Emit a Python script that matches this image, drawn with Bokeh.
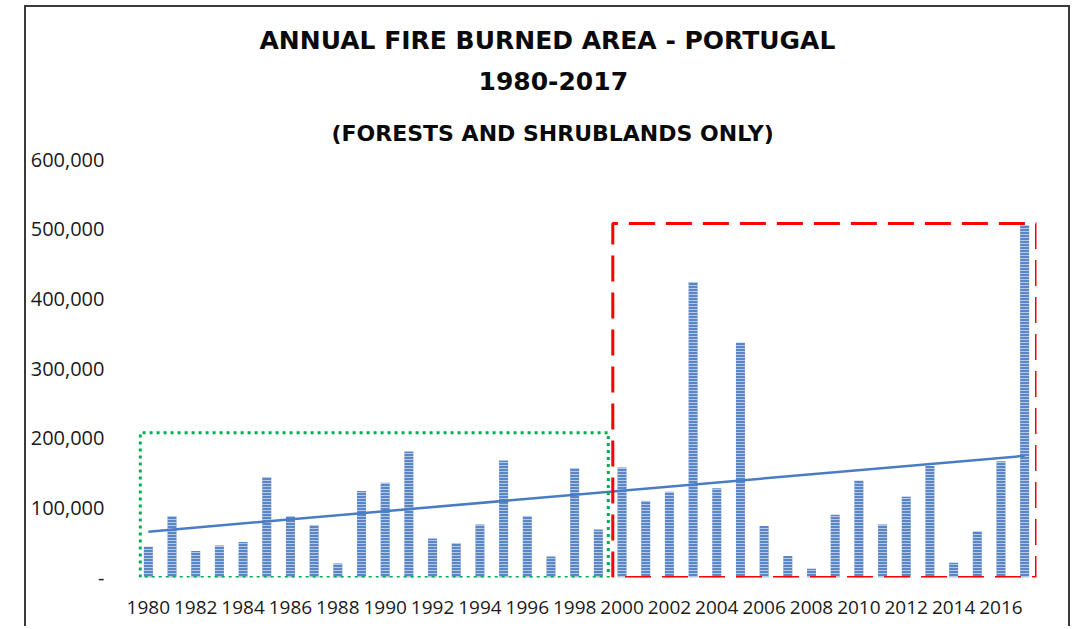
from bokeh.plotting import figure
from bokeh.models import ColumnDataSource, FixedTicker, Title
from bokeh.embed import file_html
from bokeh.resources import INLINE

years = list(range(1980, 2018))
burned_area = [44000, 88000, 38000, 46000, 51000, 144000, 88000, 75000, 20000, 124000,
               136000, 181000, 56000, 49000, 76000, 168000, 88000, 30000, 157000, 69000,
               158000, 110000, 123000, 424000, 128000, 337000, 74000, 31000, 12500, 90000,
               139000, 76000, 116000, 160000, 21000, 66000, 167000, 506000]
trend_years = [1980, 2017]
trend_values = [65800, 174600]
y_ticks = [0, 100000, 200000, 300000, 400000, 500000, 600000]
y_tick_labels = ["-", "100,000", "200,000", "300,000", "400,000", "500,000", "600,000"]
x_ticks = list(range(1980, 2017, 2))

# highlighted periods (x from, x to, y top)
green_box = (1979.66, 1999.42, 207700)
red_box = (1999.61, 2017.5, 508000)

W, H = 1046, 621
p = figure(width=W, height=H, output_backend="svg", toolbar_location=None,
           x_range=(1979.5, 2017.5), y_range=(0, 600000),
           min_border_left=110, min_border_right=36, min_border_top=152, min_border_bottom=51)
p.margin = (5, 0, 0, 24)
p.styles = {"border-left": "2px solid #3a3a3a", "border-top": "2px solid #3a3a3a",
            "border-right": "2px solid #3a3a3a"}
p.outline_line_color = None
p.grid.visible = False
p.background_fill_color = "white"
p.border_fill_color = "white"

src = ColumnDataSource(dict(year=years, area=burned_area))
p.vbar(x="year", top="area", width=0.38, bottom=0, source=src,
       fill_color="#5a86c6", line_color=None,
       hatch_pattern="horizontal_line", hatch_color="white", hatch_alpha=0.55,
       hatch_scale=3, hatch_weight=1)

p.line(trend_years, trend_values, line_color="#4a7cc4", line_width=2.5)

gx0, gx1, gy = green_box
p.line([gx0, gx0, gx1, gx1, gx0], [0, gy, gy, 0, 0], line_color="#00b050",
       line_width=3, line_dash="3 4")
rx0, rx1, ry = red_box
p.line([rx0, rx0, rx1, rx1, rx0], [0, ry, ry, 0, 0], line_color="#ff0000",
       line_width=3, line_dash="26 11")

yax = p.yaxis[0]
yax.ticker = FixedTicker(ticks=y_ticks)
yax.major_label_overrides = {t: l for t, l in zip(y_ticks, y_tick_labels)}
yax.axis_line_color = None
yax.major_tick_line_color = None
yax.minor_tick_line_color = None
yax.major_label_text_font = "Open Sans"
yax.major_label_text_font_size = "20px"
yax.major_label_text_color = "#1a1a1a"
yax.major_label_standoff = 26

xax = p.xaxis[0]
xax.ticker = FixedTicker(ticks=x_ticks)
xax.axis_line_color = None
xax.major_tick_line_color = None
xax.minor_tick_line_color = None
xax.major_label_text_font = "Open Sans"
xax.major_label_text_font_size = "19px"
xax.major_label_text_color = "#1a1a1a"
xax.major_label_standoff = 17

# titles: added bottom-most first; (text, size, standoff, left offset from frame)
titles = [("(FORESTS AND SHRUBLANDS ONLY)", "22px", 27, 195),
          ("1980-2017", "25px", 31, 342),
          ("ANNUAL FIRE BURNED AREA - PORTUGAL", "25px", 0, 123)]
for txt, fs, so, off in titles:
    p.add_layout(Title(text=txt, align="left", offset=off, standoff=so,
                       text_font="DejaVu Sans", text_font_style="bold",
                       text_font_size=fs, text_color="#0a0a0a"), "above")

open("out.html", "w").write(file_html(p, INLINE))
